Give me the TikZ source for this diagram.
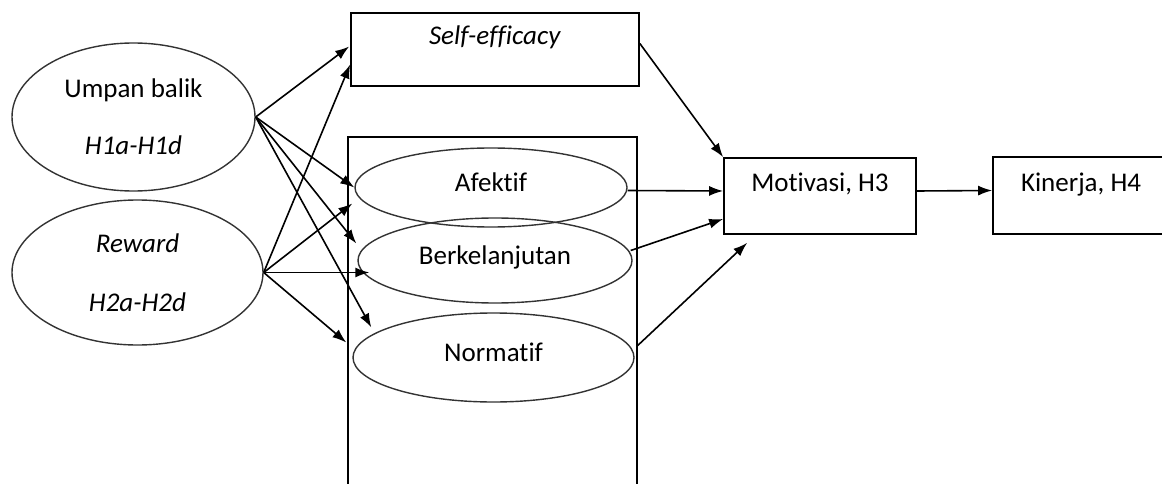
\documentclass[tikz,border=0pt]{standalone}
\usepackage{fontspec}
\setmainfont{Carlito}[Ligatures=NoCommon]
\usetikzlibrary{shapes.geometric,arrows.meta,calc}
\begin{document}
\begin{tikzpicture}[x=1pt,y=-1pt,>={Latex[length=14pt,width=10pt]},font=\fontsize{27}{33}\selectfont]
        \tikzstyle{factor}=[ellipse,draw=black!80,line width=1.4pt,inner sep=0pt,align=center]
        \tikzstyle{dimension}=[ellipse,draw=black!80,line width=1.4pt,inner sep=0pt,text height=19pt,text depth=12pt]
        \tikzstyle{construct}=[rectangle,draw,line width=1.7pt,inner sep=0pt,text height=18pt,text depth=27pt]
        \tikzstyle{link}=[draw,->,line width=1.6pt]
        \useasboundingbox (0,0) rectangle (1162,484);
       \begin{scope}
         \node [draw,line width=1.7pt,inner sep=0pt,minimum width=289pt,minimum height=363pt] (km) at (492.5,318.5) {};
         \node [factor,minimum width=243pt,minimum height=148pt] (ub) at (133.5,117) {Umpan balik\\[24pt]\textit{H1a-H1d}};
         \node [factor,minimum width=251pt,minimum height=145pt] (rw) at (137.5,272.5) {\textit{Reward}\\[26pt]\textit{H2a-H2d}};
         \node [construct,minimum width=288pt,minimum height=73pt] (se) at (495,49.5) {\textit{Self-efficacy}};
         \node [dimension,minimum width=272pt,minimum height=79pt] (af) at (491,187.5) {Afektif};
         \node [dimension,minimum width=274pt,minimum height=85pt] (bk) at (495,260.5) {Berkelanjutan};
         \node [dimension,minimum width=281pt,minimum height=89pt] (nm) at (493.5,357.5) {Normatif};
         \node [construct,minimum width=192pt,minimum height=76pt] (mv) at (820,196) {Motivasi, H3};
         \node [construct,minimum width=176pt,minimum height=77pt] (kn) at (1081,195.5) {Kinerja, H4};
         \draw[link] (ub.east) -- ($(se.west)+(-1,-3)$);
         \draw[link] (ub.east) -- (af.west);
         \draw[link] (ub.east) -- ($(bk.west)+(-1,-17)$);
         \draw[link] (ub.east) -- ($(nm.west)+(19,-30)$);
         \draw[link] (rw.east) -- ($(se.west)+(0,15)$);
         \draw[link] (rw.east) -- ($(af.west)+(-2,16)$);
         \draw[link] (rw.east) -- ($(rw.east -| bk.west)+(12,0)$);
         \draw[link] (rw.east) -- ($(nm.west)+(-6,-15)$);
         \draw[link] ($(se.east)+(0,-6)$) -- (mv.north west);
         \draw[link] ($(af.east)+(0,3)$) -- ($(mv.west)+(0,-5)$);
         \draw[link] ($(bk.east)+(-2,-10)$) -- ($(mv.west)+(0,23)$);
         \draw[link] ($(nm.east)+(3,-12)$) -- ($(mv.south west)+(24,8)$);
         \draw[link] ($(mv.east)+(0,-5)$) -- ($(kn.west)+(0,-5)$);
        \end{scope}
      \end{tikzpicture}
\end{document}
